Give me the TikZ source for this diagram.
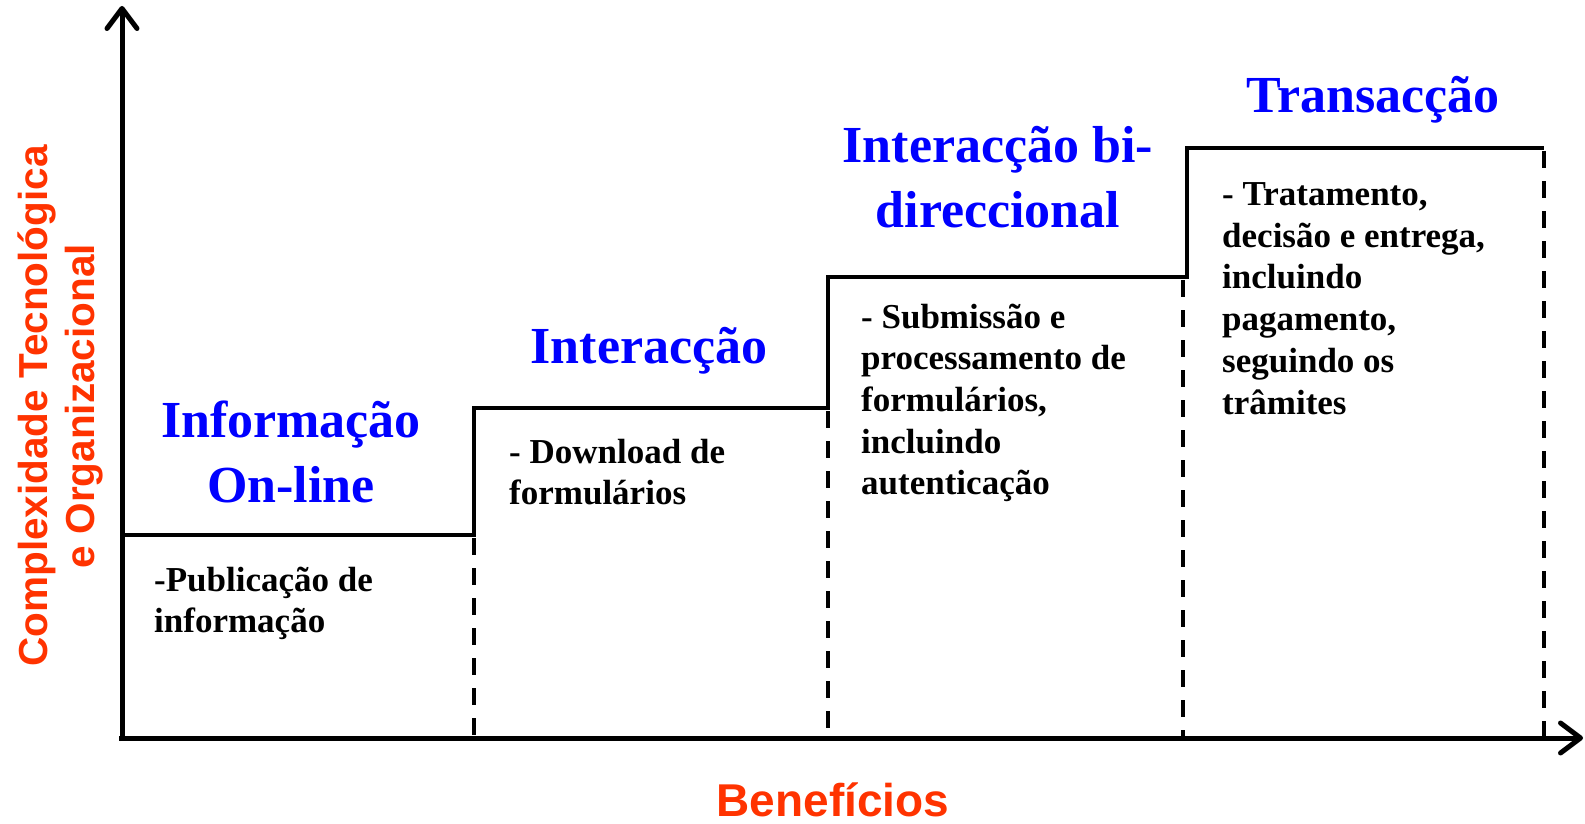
\documentclass[tikz,border=0pt]{standalone}
\usepackage{fontspec}
\setmainfont{Liberation Serif}
\setsansfont{Liberation Sans}
\usetikzlibrary{arrows.meta}
\definecolor{titleblue}{RGB}{0,0,255}
\definecolor{labelorange}{RGB}{255,51,0}
\tikzset{
  axisline/.style={line width=5pt, -{Straight Barb[length=20pt,width=30pt,round]}},
  stepline/.style={line width=3.5pt, line cap=rect},
  dashline/.style={line width=4pt, dash pattern=on 17pt off 13pt},
  titletext/.style={inner sep=0pt, text=titleblue, font=\bfseries\fontsize{52}{64.5}\selectfont, align=center, anchor=base},
  bodytext/.style={inner sep=0pt, font=\bfseries\fontsize{35}{41.7}\selectfont, align=left, anchor=base west},
  axislabel/.style={inner sep=0pt, text=labelorange, font=\sffamily\bfseries\fontsize{40.5}{47}\selectfont, align=center}
}
\begin{document}
\begin{tikzpicture}[x=1pt,y=-1pt]
\useasboundingbox (0,0) rectangle (1585,824);
% axes
\coordinate (o) at (122,738);
\coordinate (ytop) at (122,6);
\coordinate (xend) at (1583,738);
\draw[axisline] (122,741) -- (ytop);
\draw[axisline] (119,738) -- (xend);
% steps
\coordinate (s1a) at (126,535);
\coordinate (s1b) at (474,535);
\coordinate (s2a) at (474,408);
\coordinate (s2b) at (828,408);
\coordinate (s3a) at (828,277);
\coordinate (s3b) at (1183,277);
\coordinate (s4a) at (1187,277);
\coordinate (s4b) at (1187,148);
\coordinate (s4c) at (1542,148);
\draw[stepline] (s1a) -- (s1b) -- (s2a) -- (s2b) -- (s3a) -- (s3b);
\draw[stepline] (s3b) -- (s4a) -- (s4b) -- (s4c);
% dashed separators
\draw[dashline] (474,538) -- (474,738);
\draw[dashline] (828,411) -- (828,738);
\draw[dashline] (1183,280) -- (1183,738);
\draw[dashline] (1544,151) -- (1544,738);
% titles (anchor = baseline of last line)
\node[titletext] (t1) at (291,502) {Informação\\On-line};
\node[titletext] (t2) at (649,363) {Interacção};
\node[titletext] (t3) at (998,227) {Interacção bi-\\direccional};
\node[titletext] (t4) at (1373,113) {Transacção};
% body texts (anchor = baseline of last line)
\node[bodytext] (b1) at (154,632.7) {-Publicação de\\informação};
\node[bodytext] (b2) at (509,504.7) {- Download de\\formulários};
\node[bodytext] (b3) at (861,494.8) {- Submissão e\\processamento de\\formulários,\\incluindo\\autenticação};
\node[bodytext] (b4) at (1222,414) {- Tratamento,\\decisão e entrega,\\incluindo\\pagamento,\\seguindo os\\trâmites};
% axis labels
\node[axislabel, rotate=90] (ylab) at (60,406) {Complexidade Tecnológica\\e Organizacional};
\node[axislabel, anchor=base, font=\sffamily\bfseries\fontsize{46}{52}\selectfont] (xlab) at (833,816) {Benefícios};
\end{tikzpicture}
\end{document}
